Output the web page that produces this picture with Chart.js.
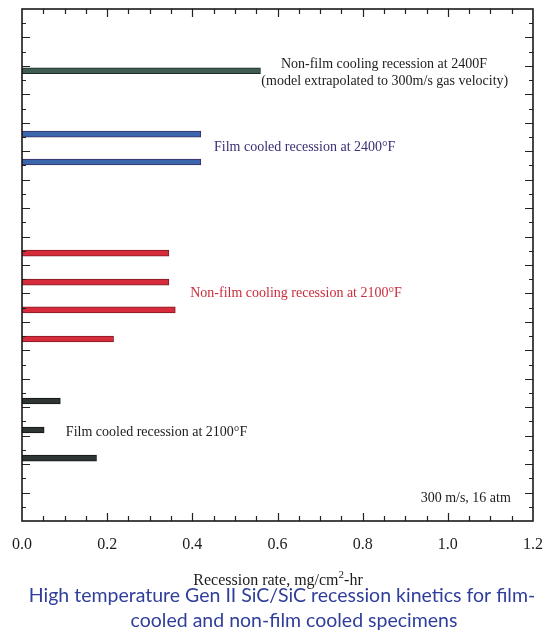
<!DOCTYPE html>
<html>
<head>
<meta charset="utf-8">
<title>Recession kinetics</title>
<script src="https://cdn.jsdelivr.net/npm/chart.js@4.4.1/dist/chart.umd.min.js"></script>
<style>
  html, body { margin: 0; padding: 0; background: #ffffff; }
  #wrap { width: 545px; height: 633px; position: relative; }
  canvas { display: block; }
</style>
</head>
<body>
<div id="wrap"><canvas id="chart" width="545" height="633"></canvas></div>
<script>
// Recession rates (mg/cm^2-hr) per specimen row, grouped by test condition.
const nonFilm2400Rows  = [2.17];
const nonFilm2400Rates = [0.56];

const film2400Rows  = [4.40, 5.38];
const film2400Rates = [0.42, 0.42];

const nonFilm2100Rows  = [8.58, 9.60, 10.58, 11.60];
const nonFilm2100Rates = [0.345, 0.345, 0.36, 0.215];

const film2100Rows  = [13.78, 14.80, 15.79];
const film2100Rates = [0.09, 0.052, 0.175];

// Axis ticks
const xTickValues = [0, 0.2, 0.4, 0.6, 0.8, 1.0, 1.2];
const xTickLabels = ['0.0', '0.2', '0.4', '0.6', '0.8', '1.0', '1.2'];
const xMin = 0, xMax = 1.2, xMinorStep = 0.05;
const yMin = 0, yMax = 18, yMinorStep = 0.5;

const axisTitle = ['Recession rate, mg/cm', '2', '-hr'];
const captionLines = [
  'High temperature Gen II SiC/SiC recession kinetics for film-',
  'cooled and non-film cooled specimens'
];

// Text placed inside the plot, positioned in data units.
const notes = [
  { text: 'Non-film cooling recession at 2400F', x: 0.85, y: 1.93, align: 'center', color: '#1c1c1c' },
  { text: '(model extrapolated to 300m/s gas velocity)', x: 0.852, y: 2.53, align: 'center', color: '#1c1c1c' },
  { text: 'Film cooled recession at 2400\u00B0F', x: 0.451, y: 4.85, align: 'left', color: '#3a2e74' },
  { text: 'Non-film cooling recession at 2100\u00B0F', x: 0.395, y: 9.99, align: 'left', color: '#c92c3c' },
  { text: 'Film cooled recession at 2100\u00B0F', x: 0.103, y: 14.87, align: 'left', color: '#1c1c1c' },
  { text: '300 m/s, 16 atm', x: 1.148, y: 17.19, align: 'right', color: '#1c1c1c' }
];

const serif = '"Liberation Serif", "Times New Roman", serif';

function points(rows, rates) {
  return rows.map((r, i) => ({ x: rates[i], y: r }));
}

function barSet(label, rows, rates, fill, edge) {
  return {
    label: label,
    data: points(rows, rates),
    backgroundColor: fill,
    borderColor: edge,
    borderWidth: 1,
    borderSkipped: false,
    barThickness: 6,
    grouped: false
  };
}

const framePlugin = {
  id: 'frameAndText',
  afterDraw(chart) {
    const ctx = chart.ctx;
    const a = chart.chartArea;
    const xs = chart.scales.x;
    const ys = chart.scales.y;
    ctx.save();

    // inward tick marks on all four sides
    ctx.strokeStyle = '#222';
    ctx.lineWidth = 1.2;
    ctx.beginPath();
    const nx = Math.round((xMax - xMin) / xMinorStep);
    for (let i = 1; i < nx; i++) {
      const px = Math.round(xs.getPixelForValue(xMin + i * xMinorStep)) + 0.5;
      const len = (i % 4 === 0) ? 8 : 5;
      ctx.moveTo(px, a.bottom); ctx.lineTo(px, a.bottom - len);
      ctx.moveTo(px, a.top);    ctx.lineTo(px, a.top + len);
    }
    const ny = Math.round((yMax - yMin) / yMinorStep);
    for (let i = 1; i < ny; i++) {
      const py = Math.round(ys.getPixelForValue(yMin + i * yMinorStep)) + 0.5;
      const len = (i % 2 === 0) ? 8 : 4;
      ctx.moveTo(a.left, py);  ctx.lineTo(a.left + len, py);
      ctx.moveTo(a.right, py); ctx.lineTo(a.right - len, py);
    }
    ctx.stroke();

    // plot frame
    ctx.lineWidth = 1.6;
    ctx.strokeStyle = '#1a1a1a';
    ctx.strokeRect(a.left, a.top, a.right - a.left, a.bottom - a.top);

    // x tick labels
    ctx.fillStyle = '#1c1c1c';
    ctx.font = '16px ' + serif;
    ctx.textAlign = 'center';
    ctx.textBaseline = 'middle';
    xTickValues.forEach((v, i) => {
      ctx.fillText(xTickLabels[i], xs.getPixelForValue(v), a.bottom + 24);
    });

    // axis title with superscript
    const big = '16px ' + serif, small = '11px ' + serif;
    ctx.font = big;
    const w0 = ctx.measureText(axisTitle[0]).width;
    const w2 = ctx.measureText(axisTitle[2]).width;
    ctx.font = small;
    const w1 = ctx.measureText(axisTitle[1]).width;
    const cx = 278, ty = a.bottom + 60;
    let sx = cx - (w0 + w1 + w2) / 2;
    ctx.textAlign = 'left';
    ctx.font = big;
    ctx.fillText(axisTitle[0], sx, ty);
    ctx.font = small;
    ctx.fillText(axisTitle[1], sx + w0, ty - 6);
    ctx.font = big;
    ctx.fillText(axisTitle[2], sx + w0 + w1, ty);

    // notes inside the plot
    ctx.font = '14px ' + serif;
    notes.forEach(n => {
      ctx.fillStyle = n.color;
      ctx.textAlign = n.align;
      ctx.fillText(n.text, xs.getPixelForValue(n.x), ys.getPixelForValue(n.y));
    });

    // caption
    ctx.fillStyle = '#2f3e9b';
    ctx.font = '19.5px Lato, "Open Sans", sans-serif';
    ctx.textAlign = 'center';
    ctx.fillText(captionLines[0], 282, 596);
    ctx.fillText(captionLines[1], 294, 621);

    ctx.restore();
  }
};

new Chart(document.getElementById('chart'), {
  type: 'bar',
  data: {
    datasets: [
      barSet('Non-film cooling recession at 2400F', nonFilm2400Rows, nonFilm2400Rates, '#3f5c53', '#1e2b27'),
      barSet('Film cooled recession at 2400\u00B0F', film2400Rows, film2400Rates, '#3b66ad', '#3a2f62'),
      barSet('Non-film cooling recession at 2100\u00B0F', nonFilm2100Rows, nonFilm2100Rates, '#d62b3b', '#7e1a24'),
      barSet('Film cooled recession at 2100\u00B0F', film2100Rows, film2100Rates, '#2f3534', '#121515')
    ]
  },
  options: {
    indexAxis: 'y',
    responsive: false,
    animation: false,
    devicePixelRatio: 1,
    layout: { padding: { left: 22, top: 9, right: 12, bottom: 112 } },
    scales: {
      x: { type: 'linear', min: xMin, max: xMax, display: false },
      y: { type: 'linear', min: yMin, max: yMax, reverse: true, offset: false, display: false }
    },
    plugins: {
      legend: { display: false },
      tooltip: { enabled: false }
    }
  },
  plugins: [framePlugin]
});
</script>
</body>
</html>
